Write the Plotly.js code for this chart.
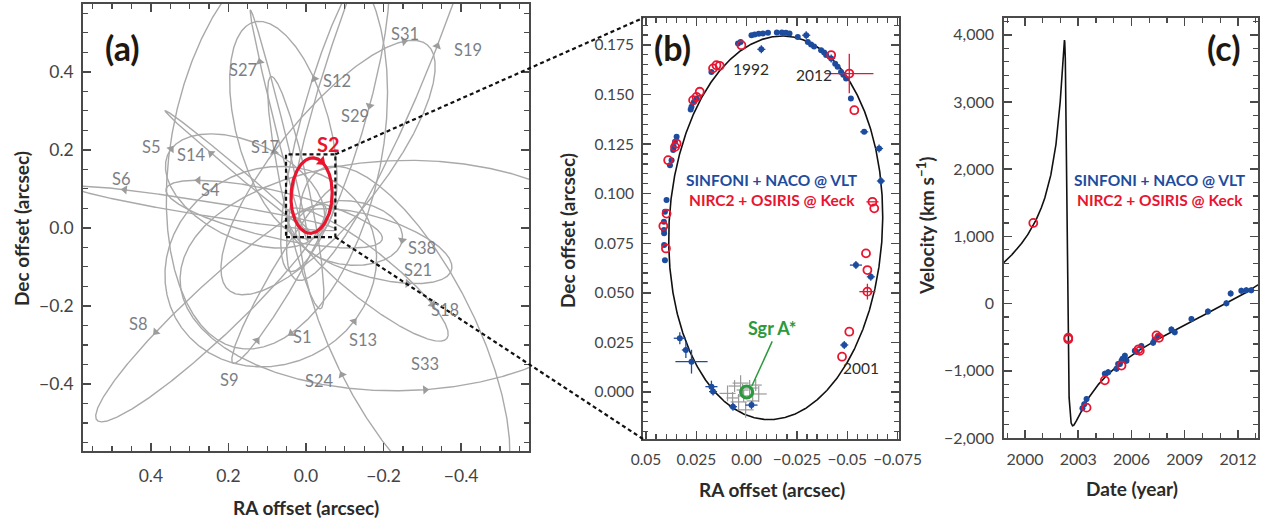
<!DOCTYPE html>
<html>
<head>
<meta charset="utf-8">
<script src="https://cdn.plot.ly/plotly-3.0.1.min.js"></script>
<style>
  html, body { margin: 0; padding: 0; background: #ffffff; }
  #chart { width: 1268px; height: 519px; }
</style>
</head>
<body>
<div id="chart"></div>
<script>
// ---------------------------------------------------------------
// S-star orbital elements (a in arcsec, angles in degrees)
// ---------------------------------------------------------------
const starNames    = ['S1', 'S4', 'S5', 'S6', 'S8', 'S9', 'S12', 'S13', 'S14', 'S17',
                      'S18', 'S19', 'S21', 'S24', 'S27', 'S29', 'S31', 'S33', 'S38'];
const semiMajor    = [0.595, 0.298, 0.250, 0.470, 0.411, 0.293, 0.308, 0.297, 0.256, 0.311,
                      0.265, 0.798, 0.219, 0.944, 0.454, 0.428, 0.449, 0.657, 0.139];
const eccentricity = [0.556, 0.406, 0.842, 0.886, 0.824, 0.644, 0.900, 0.490, 0.963, 0.364,
                      0.759, 0.844, 0.784, 0.933, 0.952, 0.728, 0.550, 0.608, 0.802];
const inclination  = [119.14, 77.83, 143.7, 86.44, 74.01, 82.41, 33.5, 24.70, 97.3, 96.83,
                      110.67, 73.57, 55.4, 106.3, 92.9, 105.8, 109.03, 60.5, 171.1];
const ascNode      = [342.04, 258.11, 109.0, 83.46, 315.90, 147.58, 230.1, 74.5, 227.74, 191.65,
                      49.11, 344.60, 252.7, 4.2, 191.2, 161.96, 137.16, 100.1, 101.06];
const periArg      = [122.3, 316.4, 236.0, 129.5, 345.2, 225.2, 317.9, 245.2, 339.0, 326.0,
                      349.46, 155.2, 182.6, 290.0, 308.8, 346.46, 308.02, 303.7, 17.99];

// name label positions on the sky (RA, Dec offsets in arcsec)
const labelRA  = [0.010, 0.245, 0.398, 0.475, 0.432, 0.196, -0.079, -0.147, 0.295, 0.106,
                  -0.358, -0.418, -0.290, -0.036, 0.162, -0.126, -0.255, -0.308, -0.300];
const labelDec = [-0.280, 0.098, 0.208, 0.126, -0.247, -0.390, 0.376, -0.288, 0.186, 0.208,
                  -0.211, 0.457, -0.108, -0.392, 0.406, 0.288, 0.496, -0.350, -0.052];
// where the direction-of-motion arrowhead sits on each orbit
const arrowRA  = [0.060, 0.278, 0.355, 0.467, 0.389, 0.115, -0.027, -0.126, 0.248, 0.068,
                  -0.302, -0.358, -0.263, -0.079, 0.128, -0.169, -0.255, -0.306, -0.250];
const arrowDec = [-0.240, 0.133, 0.208, 0.098, -0.267, -0.297, 0.385, -0.241, 0.188, 0.197,
                  -0.215, 0.457, -0.134, -0.382, 0.423, 0.312, 0.466, -0.386, -0.032];

// S2 orbit (elements, pericentre epoch, period, RV semi-amplitude)
const s2Elements = { a: 0.1255, e: 0.8839, inc: 134.18, node: 226.94, peri: 65.51 };
const s2Timing   = { tPeri: 2002.33, period: 16.0, amplitude: 2870, systemic: 0 };
const s2Label    = { ra: -0.059, dec: 0.214 };
const s2Arrow    = { ra: -0.045, dec: 0.175 };

// ---------------------------------------------------------------
// S2 astrometry (RA, Dec offsets, arcsec) with 1-sigma errors
// ---------------------------------------------------------------
const vltRA   = [0.0043, 0.0030, -0.0024, -0.0040, -0.0060, -0.0081, -0.0106, -0.0150, -0.0175, -0.0195,
                 -0.0213, -0.0254, -0.0296, -0.0304, -0.0320, -0.0335, -0.0370, -0.0385, -0.0395, -0.0420,
                 -0.0440, -0.0452, -0.0469, -0.0480, -0.0494, -0.0518, -0.0584, -0.0658, -0.0667, -0.0073,
                 0.0175, 0.0249, 0.0262, 0.0274, 0.0278, 0.0348, 0.0356, 0.0362, 0.0365, 0.0373,
                 0.0381, 0.0398, 0.0406, 0.0411, 0.0411, 0.0410, 0.0410, 0.0406, 0.0332, 0.0302,
                 0.0274, 0.0175, 0.0167, 0.0068, -0.0024, -0.0485, -0.0543, -0.0617];
const vltDec  = [0.1758, 0.1765, 0.1799, 0.1803, 0.1806, 0.1808, 0.1811, 0.1813, 0.1813, 0.1812,
                 0.1808, 0.1790, 0.1799, 0.1765, 0.1752, 0.1742, 0.1724, 0.1712, 0.1699, 0.1682,
                 0.1655, 0.1640, 0.1614, 0.1600, 0.1581, 0.1480, 0.1312, 0.1228, 0.1064, 0.1728,
                 0.1614, 0.1480, 0.1462, 0.1438, 0.1425, 0.1287, 0.1262, 0.1235, 0.1220, 0.1169,
                 0.1144, 0.0968, 0.0909, 0.0858, 0.0817, 0.0800, 0.0741, 0.0665, 0.0271, 0.0212,
                 0.0153, 0.0027, 0.0002, -0.0074, -0.0066, 0.0237, 0.0640, 0.0581];
const vltErrRA  = [0.001, 0.001, 0.001, 0.001, 0.001, 0.001, 0.001, 0.001, 0.001, 0.001,
                   0.001, 0.001, 0.002, 0.001, 0.001, 0.001, 0.001, 0.001, 0.001, 0.002,
                   0.001, 0.001, 0.001, 0.001, 0.001, 0.001, 0.002, 0.002, 0.002, 0.002,
                   0.001, 0.001, 0.001, 0.001, 0.001, 0.001, 0.001, 0.001, 0.001, 0.001,
                   0.001, 0.001, 0.001, 0.001, 0.001, 0.001, 0.001, 0.001, 0.003, 0.002,
                   0.008, 0.003, 0.002, 0.002, 0.003, 0.002, 0.003, 0.002];
const vltErrDec = [0.001, 0.001, 0.001, 0.001, 0.001, 0.001, 0.001, 0.001, 0.001, 0.001,
                   0.001, 0.001, 0.002, 0.001, 0.001, 0.001, 0.001, 0.001, 0.001, 0.002,
                   0.001, 0.001, 0.001, 0.001, 0.001, 0.001, 0.001, 0.002, 0.002, 0.002,
                   0.001, 0.001, 0.001, 0.001, 0.001, 0.001, 0.001, 0.001, 0.001, 0.001,
                   0.001, 0.001, 0.001, 0.001, 0.001, 0.001, 0.001, 0.001, 0.003, 0.004,
                   0.006, 0.003, 0.002, 0.002, 0.002, 0.002, 0.002, 0.002];

const keckRA  = [0.0026, 0.0167, 0.0150, 0.0134, 0.0233, 0.0249, 0.0266, 0.0348, 0.0356, 0.0390,
                 0.0398, 0.0414, 0.0401, -0.0420, -0.0510, -0.0535, -0.0625, -0.0634, -0.0593, -0.0600,
                 -0.0600, -0.0510, -0.0474];
const keckDec = [0.1749, 0.1632, 0.1648, 0.1645, 0.1514, 0.1488, 0.1472, 0.1253, 0.1236, 0.1169,
                 0.0900, 0.0837, 0.0724, 0.1699, 0.1606, 0.1421, 0.0959, 0.0926, 0.0699, 0.0615,
                 0.0506, 0.0304, 0.0178];
const keckErrRA  = [0, 0, 0, 0, 0, 0, 0, 0, 0, 0,
                    0, 0, 0, 0, 0.012, 0, 0.003, 0, 0, 0,
                    0.004, 0, 0];
const keckErrDec = [0, 0, 0, 0, 0, 0, 0, 0, 0, 0,
                    0, 0, 0, 0, 0.010, 0, 0, 0, 0, 0,
                    0.004, 0, 0];

// Sgr A* flare positions around the radio source
const flareRA  = [0.0095, 0.0060, 0.0030, 0.0015, -0.0015, -0.0030, 0.0040, -0.0045, 0.0005, 0.0070, -0.0060, 0.0020];
const flareDec = [-0.0007, 0.0030, 0.0045, -0.0020, 0.0020, -0.0045, -0.0050, 0.0035, -0.0090, -0.0030, -0.0010, 0.0010];
const flareErr = [0.004, 0.003, 0.004, 0.003, 0.004, 0.003, 0.004, 0.003, 0.004, 0.003, 0.004, 0.003];

// ---------------------------------------------------------------
// S2 radial velocities (km/s)
// ---------------------------------------------------------------
const vltYear = [2003.24, 2003.34, 2003.47, 2004.50, 2004.69, 2005.16, 2005.25, 2005.35, 2005.44, 2005.50,
                 2005.63, 2005.72, 2006.19, 2006.30, 2006.56, 2007.22, 2007.30, 2007.50, 2008.25, 2008.44,
                 2009.38, 2010.31, 2011.35, 2011.59, 2012.19, 2012.47, 2012.75];
const vltVel  = [-1557, -1498, -1420, -1044, -1020, -971, -898, -900, -849, -820,
                 -776, -849, -703, -720, -630, -581, -540, -483, -385, -425,
                 -230, -117, 4, 151, 190, 200, 200];
const keckYear = [2000.47, 2002.44, 2002.44, 2003.47, 2004.50, 2005.44, 2006.40, 2006.47, 2007.41, 2007.55];
const keckVel  = [1200, -508, -530, -1548, -1142, -922, -680, -703, -473, -508];

// ---------------------------------------------------------------
// helpers
// ---------------------------------------------------------------
const W = 1268, H = 519;
const px2x = p => p / W;        // pixel column -> paper x
const px2y = p => 1 - p / H;    // pixel row -> paper y
const DEG = Math.PI / 180;

// sky-projected Keplerian orbit sampled in eccentric anomaly
function skyOrbit(a, e, incDeg, nodeDeg, periDeg, nSteps) {
  const co = Math.cos(periDeg * DEG), so = Math.sin(periDeg * DEG);
  const cO = Math.cos(nodeDeg * DEG), sO = Math.sin(nodeDeg * DEG);
  const ci = Math.cos(incDeg * DEG);
  const A = co * cO - so * sO * ci, B = co * sO + so * cO * ci;
  const F = -so * cO - co * sO * ci, G = -so * sO + co * cO * ci;
  const b = a * Math.sqrt(1 - e * e);
  const ra = [], dec = [];
  for (let k = 0; k <= nSteps; k++) {
    const E = 2 * Math.PI * k / nSteps;
    const X = a * (Math.cos(E) - e), Y = b * Math.sin(E);
    ra.push(B * X + G * Y);
    dec.push(A * X + F * Y);
  }
  return { ra, dec };
}

// arrowhead placed on the orbit sample nearest to (ra0, dec0),
// rotated along the direction of motion (screen scales sx, sy in px/arcsec)
function arrowOn(orbit, ra0, dec0, sx, sy) {
  const n = orbit.ra.length - 1;
  let best = 0, bd = Infinity;
  for (let k = 0; k < n; k++) {
    const dx = (orbit.ra[k] - ra0) * sx, dy = (orbit.dec[k] - dec0) * sy;
    const d = dx * dx + dy * dy;
    if (d < bd) { bd = d; best = k; }
  }
  const k0 = (best - 2 + n) % n, k1 = (best + 2) % n;
  const dxs = -(orbit.ra[k1] - orbit.ra[k0]) * sx;   // RA grows to the left
  const dys = (orbit.dec[k1] - orbit.dec[k0]) * sy;
  return { x: orbit.ra[best], y: orbit.dec[best], angle: Math.atan2(dxs, dys) / DEG };
}

// S2 line-of-sight velocity curve, sampled in eccentric anomaly
function velocityCurve(el, tm, nSteps) {
  const t = [], v = [];
  const w = el.peri * DEG;
  for (let k = 0; k <= nSteps; k++) {
    const E = -Math.PI + 4 * Math.PI * k / nSteps;
    const M = E - el.e * Math.sin(E);
    const nu = 2 * Math.atan2(Math.sqrt(1 + el.e) * Math.sin(E / 2), Math.sqrt(1 - el.e) * Math.cos(E / 2));
    t.push(tm.tPeri + tm.period * M / (2 * Math.PI));
    v.push(tm.amplitude * (Math.cos(w + nu) + el.e * Math.cos(w)) + tm.systemic);
  }
  return { t, v };
}

// ---------------------------------------------------------------
// panel geometry
// ---------------------------------------------------------------
const domA = { x: [px2x(83), px2x(529)], y: [px2y(451), px2y(4)] };
const domB = { x: [px2x(643), px2x(899)], y: [px2y(439), px2y(18)] };
const domC = { x: [px2x(1004), px2x(1258)], y: [px2y(438), px2y(18)] };
const rangeA = { x: [0.575, -0.575], y: [-0.572, 0.574] };
const rangeB = { x: [0.0515, -0.0757], y: [-0.0237, 0.1886] };
const rangeC = { x: [1998.82, 2013.13], y: [-2000, 4250] };
const scaleA = { x: 446 / 1.150, y: 447 / 1.146 };

const GREY = '#a9a9a9', BLUE = '#1d4c9e', RED = '#e8152f', GREEN = '#2b9a3c';
const AXIS = '#4a4a4a', TICKTXT = '#444444';
const FONT = 'Lato, "Open Sans", sans-serif';

const traces = [];

// ---- panel (a): orbits of the S-stars ----
const arrowX = [], arrowY = [], arrowAng = [];
starNames.forEach((name, i) => {
  const orb = skyOrbit(semiMajor[i], eccentricity[i], inclination[i], ascNode[i], periArg[i], 900);
  traces.push({
    type: 'scatter', mode: 'lines', x: orb.ra, y: orb.dec, xaxis: 'x', yaxis: 'y',
    line: { color: GREY, width: 1.4 }, hoverinfo: 'skip', showlegend: false, name: name
  });
  const ah = arrowOn(orb, arrowRA[i], arrowDec[i], scaleA.x, scaleA.y);
  arrowX.push(ah.x); arrowY.push(ah.y); arrowAng.push(ah.angle);
});
traces.push({
  type: 'scatter', mode: 'markers', x: arrowX, y: arrowY, xaxis: 'x', yaxis: 'y',
  marker: { symbol: 'triangle-up', size: 8, color: '#9c9c9c', angle: arrowAng },
  hoverinfo: 'skip', showlegend: false
});

const s2Orbit = skyOrbit(s2Elements.a, s2Elements.e, s2Elements.inc, s2Elements.node, s2Elements.peri, 900);
traces.push({
  type: 'scatter', mode: 'lines', x: s2Orbit.ra, y: s2Orbit.dec, xaxis: 'x', yaxis: 'y',
  line: { color: RED, width: 3.2 }, hoverinfo: 'skip', showlegend: false, name: 'S2'
});
const s2Head = arrowOn(s2Orbit, s2Arrow.ra, s2Arrow.dec, scaleA.x, scaleA.y);
traces.push({
  type: 'scatter', mode: 'markers', x: [s2Head.x], y: [s2Head.y], xaxis: 'x', yaxis: 'y',
  marker: { symbol: 'triangle-up', size: 10, color: RED, angle: [s2Head.angle] },
  hoverinfo: 'skip', showlegend: false
});

// ---- panel (b): S2 astrometry ----
traces.push({
  type: 'scatter', mode: 'lines', x: s2Orbit.ra, y: s2Orbit.dec, xaxis: 'x2', yaxis: 'y2',
  line: { color: '#111111', width: 1.6 }, hoverinfo: 'skip', showlegend: false
});
traces.push({
  type: 'scatter', mode: 'markers', x: flareRA, y: flareDec, xaxis: 'x2', yaxis: 'y2',
  marker: { size: 1, color: '#9a9a9a' },
  error_x: { type: 'data', array: flareErr, color: '#9a9a9a', thickness: 1.2, width: 0 },
  error_y: { type: 'data', array: flareErr, color: '#9a9a9a', thickness: 1.2, width: 0 },
  hoverinfo: 'skip', showlegend: false
});
traces.push({
  type: 'scatter', mode: 'markers', x: vltRA, y: vltDec, xaxis: 'x2', yaxis: 'y2',
  marker: { size: 6, color: BLUE },
  error_x: { type: 'data', array: vltErrRA, color: BLUE, thickness: 1.3, width: 0 },
  error_y: { type: 'data', array: vltErrDec, color: BLUE, thickness: 1.3, width: 0 },
  hoverinfo: 'skip', showlegend: false
});
traces.push({
  type: 'scatter', mode: 'markers', x: keckRA, y: keckDec, xaxis: 'x2', yaxis: 'y2',
  marker: { symbol: 'circle-open', size: 8, color: RED, line: { width: 1.8, color: RED } },
  error_x: { type: 'data', array: keckErrRA, color: RED, thickness: 1.3, width: 0 },
  error_y: { type: 'data', array: keckErrDec, color: RED, thickness: 1.3, width: 0 },
  hoverinfo: 'skip', showlegend: false
});
traces.push({
  type: 'scatter', mode: 'markers', x: [0], y: [0], xaxis: 'x2', yaxis: 'y2',
  marker: { symbol: 'circle-open', size: 12, color: GREEN, line: { width: 3.2, color: GREEN } },
  hoverinfo: 'skip', showlegend: false
});

// ---- panel (c): S2 radial velocity ----
const rv = velocityCurve(s2Elements, s2Timing, 8000);
traces.push({
  type: 'scatter', mode: 'lines', x: rv.t, y: rv.v, xaxis: 'x3', yaxis: 'y3',
  line: { color: '#111111', width: 1.6 }, hoverinfo: 'skip', showlegend: false
});
traces.push({
  type: 'scatter', mode: 'markers', x: vltYear, y: vltVel, xaxis: 'x3', yaxis: 'y3',
  marker: { size: 6, color: BLUE },
  error_y: { type: 'constant', value: 45, color: BLUE, thickness: 1.3, width: 0 },
  hoverinfo: 'skip', showlegend: false
});
traces.push({
  type: 'scatter', mode: 'markers', x: keckYear, y: keckVel, xaxis: 'x3', yaxis: 'y3',
  marker: { symbol: 'circle-open', size: 8, color: RED, line: { width: 1.8, color: RED } },
  hoverinfo: 'skip', showlegend: false
});

// ---------------------------------------------------------------
// axes
// ---------------------------------------------------------------
function frameAxis(extra, minorStep, size) {
  return Object.assign({
    showline: true, linecolor: AXIS, linewidth: 1.8, mirror: 'allticks',
    ticks: 'inside', ticklen: 8, tickwidth: 1.5, tickcolor: AXIS,
    showgrid: false, zeroline: false, fixedrange: true,
    tickfont: { family: FONT, size: size, color: TICKTXT },
    minor: { ticks: 'inside', ticklen: 5, tickwidth: 1.2, tickcolor: AXIS,
             tickmode: 'linear', tick0: 0, dtick: minorStep, showgrid: false }
  }, extra);
}

const layout = {
  width: W, height: H,
  margin: { l: 0, r: 0, t: 0, b: 0 },
  paper_bgcolor: '#ffffff', plot_bgcolor: '#ffffff',
  font: { family: FONT, color: TICKTXT },
  showlegend: false, hovermode: false,
  xaxis: frameAxis({ domain: domA.x, range: rangeA.x, anchor: 'y',
                     tickmode: 'linear', tick0: 0, dtick: 0.2, tickformat: '.1f', ticklabelstandoff: 8 }, 0.05, 17.5),
  yaxis: frameAxis({ domain: domA.y, range: rangeA.y, anchor: 'x',
                     tickmode: 'linear', tick0: 0, dtick: 0.2, tickformat: '.1f', ticklabelstandoff: 4 }, 0.05, 17.5),
  xaxis2: frameAxis({ domain: domB.x, range: rangeB.x, anchor: 'y2',
                      tickmode: 'array', tickvals: [0.05, 0.025, 0, -0.025, -0.05, -0.075],
                      ticktext: ['0.05', '0.025', '0.00', '\u22120.025', '\u22120.05', '\u22120.075'],
                      ticklabelstandoff: 6 }, 0.005, 15.5),
  yaxis2: frameAxis({ domain: domB.y, range: rangeB.y, anchor: 'x2',
                      tickmode: 'linear', tick0: 0, dtick: 0.025, tickformat: '.3f', ticklabelstandoff: 4 }, 0.005, 15.5),
  xaxis3: frameAxis({ domain: domC.x, range: rangeC.x, anchor: 'y3',
                      tickmode: 'linear', tick0: 2000, dtick: 3, ticklabelstandoff: 6 }, 1, 16),
  yaxis3: frameAxis({ domain: domC.y, range: rangeC.y, anchor: 'x3',
                      tickmode: 'linear', tick0: 0, dtick: 1000, tickformat: ',d', ticklabelstandoff: 5 }, 200, 16),
  shapes: [],
  annotations: []
};

// ---------------------------------------------------------------
// zoom box and connectors
// ---------------------------------------------------------------
function toPaper(v, range, dom) {
  return dom[0] + (v - range[0]) / (range[1] - range[0]) * (dom[1] - dom[0]);
}
layout.shapes.push({
  type: 'rect', xref: 'x', yref: 'y', layer: 'above',
  x0: rangeB.x[0], x1: rangeB.x[1], y0: rangeB.y[0], y1: rangeB.y[1],
  line: { color: '#111111', width: 2.2, dash: '4px,3px' }
});
const boxRight = toPaper(rangeB.x[1], rangeA.x, domA.x);
layout.shapes.push({
  type: 'line', xref: 'paper', yref: 'paper', layer: 'above',
  x0: boxRight, y0: toPaper(rangeB.y[1], rangeA.y, domA.y), x1: domB.x[0], y1: domB.y[1],
  line: { color: '#111111', width: 2.2, dash: '4px,3px' }
});
layout.shapes.push({
  type: 'line', xref: 'paper', yref: 'paper', layer: 'above',
  x0: boxRight, y0: toPaper(rangeB.y[0], rangeA.y, domA.y), x1: domB.x[0], y1: domB.y[0],
  line: { color: '#111111', width: 2.2, dash: '4px,3px' }
});
// pointer from the Sgr A* label to the radio source
layout.shapes.push({
  type: 'line', xref: 'x2', yref: 'y2', layer: 'above',
  x0: -0.0127, y0: 0.0255, x1: -0.0026, y1: 0.0030,
  line: { color: GREEN, width: 1.5 }
});

// ---------------------------------------------------------------
// text
// ---------------------------------------------------------------
const ann = layout.annotations;
const BOLD = (size, color) => ({ family: FONT, size: size, color: color, weight: 'bold' });
function paperText(text, x, y, font, opts) {
  ann.push(Object.assign({
    text: text, xref: 'paper', yref: 'paper', x: px2x(x), y: px2y(y),
    xanchor: 'center', yanchor: 'middle', showarrow: false, font: font
  }, opts || {}));
}

// panel tags
paperText('(a)', 122, 48, BOLD(34, '#1e1810'));
paperText('(b)', 672, 48, BOLD(34, '#1e1810'));
paperText('(c)', 1223, 48, BOLD(34, '#1e1810'));

// axis titles
paperText('RA offset (arcsec)', 306, 507, BOLD(19, '#2a2a2a'));
paperText('Dec offset (arcsec)', 21, 229, BOLD(19, '#2a2a2a'), { textangle: -90 });
paperText('RA offset (arcsec)', 772, 489, BOLD(19, '#2a2a2a'));
paperText('Dec offset (arcsec)', 567, 231, BOLD(19, '#2a2a2a'), { textangle: -90 });
paperText('Date (year)', 1132, 488, BOLD(19, '#2a2a2a'));
paperText('Velocity (km s<sup>\u22121</sup>)', 926, 226, BOLD(19, '#2a2a2a'), { textangle: -90 });

// star names in panel (a)
starNames.forEach((name, i) => {
  ann.push({
    text: name, xref: 'x', yref: 'y', x: labelRA[i], y: labelDec[i],
    xanchor: 'center', yanchor: 'middle', showarrow: false,
    font: { family: FONT, size: 16.5, color: '#7c7f86' }
  });
});
ann.push({
  text: 'S2', xref: 'x', yref: 'y', x: s2Label.ra, y: s2Label.dec,
  xanchor: 'center', yanchor: 'middle', showarrow: false,
  font: BOLD(20, RED)
});

// instrument keys
paperText('SINFONI + NACO @ VLT', 772, 180, BOLD(15.5, BLUE));
paperText('NIRC2 + OSIRIS @ Keck', 772, 200, BOLD(15.5, RED));
paperText('SINFONI + NACO @ VLT', 1160, 180, BOLD(15.5, BLUE));
paperText('NIRC2 + OSIRIS @ Keck', 1160, 200, BOLD(15.5, RED));

// epochs and Sgr A* in panel (b)
const epochText = ['1992', '2012', '2001'];
const epochRA   = [-0.0020, -0.0337, -0.0570];
const epochDec  = [0.1630, 0.1600, 0.0120];
epochText.forEach((txt, i) => {
  ann.push({
    text: txt, xref: 'x2', yref: 'y2', x: epochRA[i], y: epochDec[i],
    xanchor: 'center', yanchor: 'middle', showarrow: false,
    font: { family: FONT, size: 15.5, color: '#2c2c2c' }
  });
});
ann.push({
  text: 'Sgr A*', xref: 'x2', yref: 'y2', x: -0.0127, y: 0.0325,
  xanchor: 'center', yanchor: 'middle', showarrow: false,
  font: BOLD(18, GREEN)
});

Plotly.newPlot('chart', traces, layout, { displayModeBar: false, staticPlot: true });
</script>
</body>
</html>
